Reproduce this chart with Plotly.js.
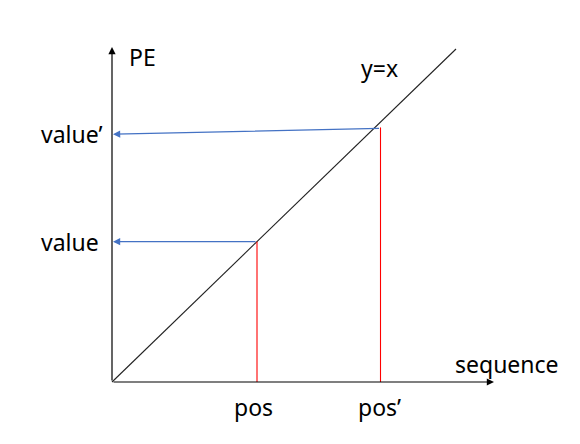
<!DOCTYPE html>
<html>
<head>
<meta charset="utf-8">
<script src="https://cdn.plot.ly/plotly-3.0.1.min.js"></script>
<style>html,body{margin:0;padding:0;background:#fff;}#chart{width:580px;height:444px;}</style>
</head>
<body>
<div id="chart"></div>
<script>
// ---- data (abstract units) ----
const lineX = [0, 34.4];
const lineY = [0, 34.4];
const posLabels = ['pos', 'pos\u2019'];
const posX = [14.5, 26.85];
const posTop = [14.5, 26.3];
const valueLabels = ['value', 'value\u2019'];
const valueFrom = [14.5, 26.2];
const valueTo = [14.5, 25.6];
const axisNames = ['sequence', 'PE'];
const axisEnds = [38.2, 34.6];
const lineLabel = 'y=x';

// ---- scale helpers (layout) ----
const X0 = 112, Y0 = 382, SX = 10, SY = 9.68;
const W = 580, H = 444;
const px2x = p => (p - X0) / SX;
const py2y = p => (Y0 - p) / SY;

const FONT = 'Noto Sans, sans-serif';
const FS = 23;
const traces = [
  {x: lineX, y: lineY, mode: 'lines', line: {color: '#222', width: 1.1}, hoverinfo: 'skip'}
];
posX.forEach((px, i) => {
  traces.push({x: [px, px], y: [0, posTop[i]], mode: 'lines',
    line: {color: '#ff0000', width: 1.1}, hoverinfo: 'skip'});
});

const annotations = [];
// axes arrows
annotations.push({x: axisEnds[0], y: 0, ax: 0, ay: 0, xref: 'x', yref: 'y', axref: 'x', ayref: 'y',
  text: '', showarrow: true, arrowhead: 2, arrowsize: 1.2, arrowwidth: 1.2, arrowcolor: '#000', standoff: 0});
annotations.push({x: 0, y: axisEnds[1], ax: 0, ay: 0, xref: 'x', yref: 'y', axref: 'x', ayref: 'y',
  text: '', showarrow: true, arrowhead: 2, arrowsize: 1.2, arrowwidth: 1.2, arrowcolor: '#000', standoff: 0});
// value arrows
valueFrom.forEach((v, i) => {
  annotations.push({x: 0.1, y: valueTo[i], ax: posX[i], ay: v, xref: 'x', yref: 'y', axref: 'x', ayref: 'y',
    text: '', showarrow: true, arrowhead: 2, arrowsize: 1.2, arrowwidth: 1.2, arrowcolor: '#4472C4', standoff: 0});
  annotations.push({x: px2x(39), y: valueTo[i], xref: 'x', yref: 'y', xanchor: 'left', yanchor: 'middle',
    text: valueLabels[i], showarrow: false, font: {family: FONT, size: FS, color: '#000'}});
});
// pos labels
posX.forEach((px, i) => {
  annotations.push({x: px - 0.4 + (i ? 0.3 : 0), y: py2y(407), xref: 'x', yref: 'y', xanchor: 'center', yanchor: 'middle',
    text: posLabels[i], showarrow: false, font: {family: FONT, size: FS, color: '#000'}});
});
annotations.push({x: px2x(453), y: py2y(364), xref: 'x', yref: 'y', xanchor: 'left', yanchor: 'middle',
  text: axisNames[0], showarrow: false, font: {family: FONT, size: FS, color: '#000'}});
annotations.push({x: px2x(127), y: py2y(57), xref: 'x', yref: 'y', xanchor: 'left', yanchor: 'middle',
  text: axisNames[1], showarrow: false, font: {family: FONT, size: FS, color: '#000'}});
annotations.push({x: px2x(359), y: py2y(68), xref: 'x', yref: 'y', xanchor: 'left', yanchor: 'middle',
  text: lineLabel, showarrow: false, font: {family: FONT, size: FS, color: '#000'}});

const layout = {
  width: W, height: H,
  margin: {l: 0, r: 0, t: 0, b: 0},
  paper_bgcolor: '#fff', plot_bgcolor: '#fff',
  showlegend: false,
  xaxis: {range: [px2x(0), px2x(W)], visible: false, fixedrange: true},
  yaxis: {range: [py2y(H), py2y(0)], visible: false, fixedrange: true},
  annotations: annotations
};
Plotly.newPlot('chart', traces, layout, {displayModeBar: false, staticPlot: true});
</script>
</body>
</html>
